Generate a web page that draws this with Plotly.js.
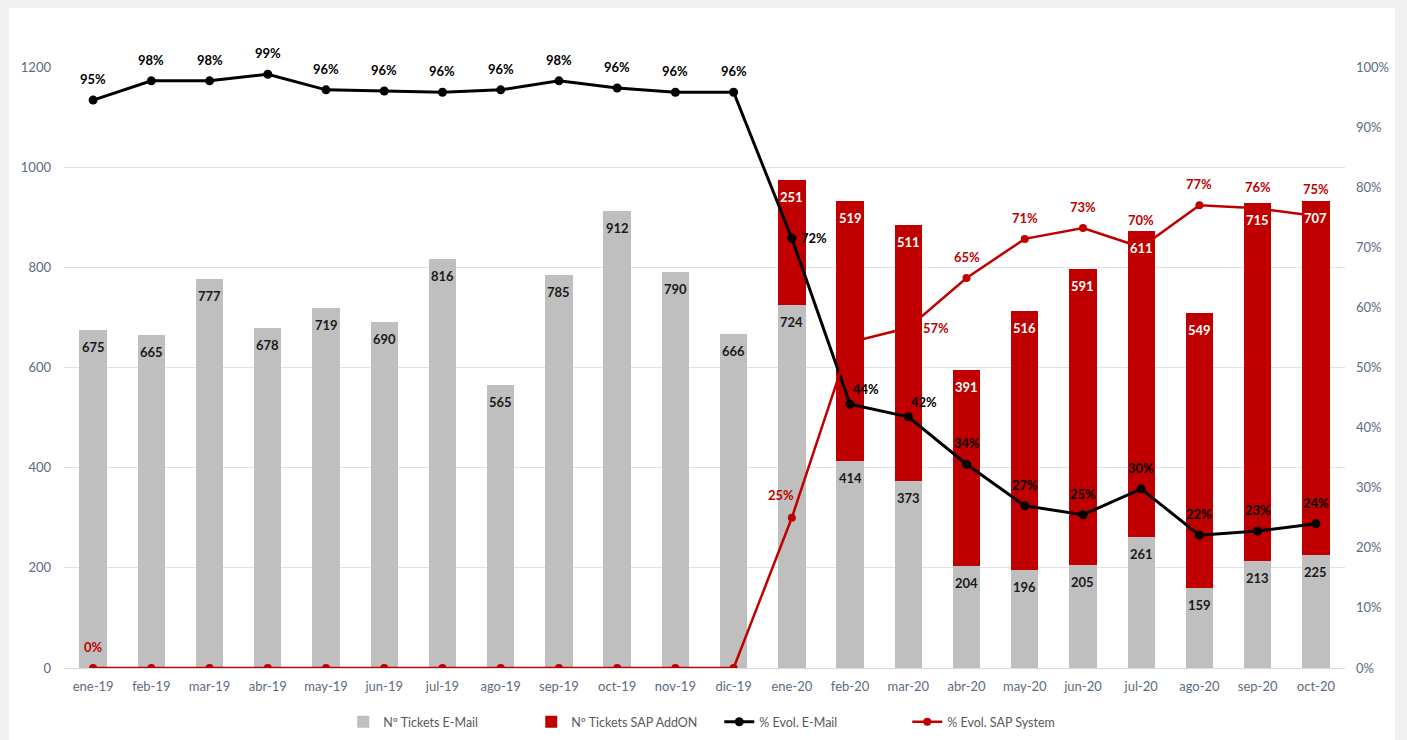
<!DOCTYPE html>
<html>
<head>
<meta charset="utf-8">
<script src="https://cdn.plot.ly/plotly-3.0.1.min.js"></script>
<style>
html,body{margin:0;padding:0;background:#f0f0f0;width:1407px;height:740px;overflow:hidden;}
#chart{position:absolute;left:9px;top:8px;width:1386px;height:732px;background:#fff;}
</style>
</head>
<body>
<div id="chart"></div>
<script>
const months = ["ene-19","feb-19","mar-19","abr-19","may-19","jun-19","jul-19","ago-19","sep-19","oct-19","nov-19","dic-19","ene-20","feb-20","mar-20","abr-20","may-20","jun-20","jul-20","ago-20","sep-20","oct-20"];
const ticketsEmail = [675,665,777,678,719,690,816,565,785,912,790,666,724,414,373,204,196,205,261,159,213,225];
const ticketsSap = [0,0,0,0,0,0,0,0,0,0,0,0,251,519,511,391,516,591,611,549,715,707];
const pctEmail = [0.945,0.977,0.977,0.988,0.962,0.960,0.958,0.962,0.977,0.965,0.958,0.958,0.715,0.439,0.418,0.339,0.270,0.255,0.298,0.221,0.228,0.240];
const pctEmailLabels = ["95%","98%","98%","99%","96%","96%","96%","96%","98%","96%","96%","96%","72%","44%","42%","34%","27%","25%","30%","22%","23%","24%"];
const pctSap = [0,0,0,0,0,0,0,0,0,0,0,0,0.25,0.542,0.566,0.649,0.714,0.732,0.700,0.770,0.765,0.752];
const pctSapLabels = ["0%","","","","","","","","","","","","25%","","57%","65%","71%","73%","70%","77%","76%","75%"];
// label placement codes (like textposition)
const emailLabelPos = ["above","above","above","above","above","above","above","above","above","above","above","above","right","upright","upright","above","above","above","above","above","above","above"];
const sapLabelPos = ["above","above","above","above","above","above","above","above","above","above","above","above","upleft","above","farright","above","above","above","high","above","above","high"];

const tickFont = {family:"Lato, 'Open Sans', sans-serif", size:13, color:"#5b6b82"};
const placement = {
  above:{xshift:0, yshift:21},
  high:{xshift:0, yshift:27},
  right:{xshift:22, yshift:0},
  farright:{xshift:28, yshift:0},
  upright:{xshift:16, yshift:15},
  upleft:{xshift:-11, yshift:23}
};

const traces = [
  {type:"bar", name:"Nº Tickets E-Mail", x:months, y:ticketsEmail, marker:{color:"#bfbfbf"}, hoverinfo:"y"},
  {type:"bar", name:"Nº Tickets SAP AddON", x:months, y:ticketsSap, marker:{color:"#c00000"}, hoverinfo:"y"},
  {type:"scatter", mode:"lines+markers", name:"% Evol. E-Mail", x:months, y:pctEmail, yaxis:"y2",
   line:{color:"#000000", width:3}, marker:{color:"#000000", size:9}},
  {type:"scatter", mode:"lines+markers", name:"% Evol. SAP System", x:months, y:pctSap, yaxis:"y2",
   line:{color:"#c00000", width:2.5}, marker:{color:"#c00000", size:8}}
];

const annotations = [];
const lblFont = (c)=>({family:"Lato, sans-serif", size:13, color:c, weight:"bold"});
months.forEach((m,i)=>{
  annotations.push({x:m, y:ticketsEmail[i], xref:"x", yref:"y", text:String(ticketsEmail[i]), showarrow:false,
    yshift:-17, font:lblFont("#1a1a1a")});
  if (ticketsSap[i]) {
    annotations.push({x:m, y:ticketsEmail[i]+ticketsSap[i], xref:"x", yref:"y", text:String(ticketsSap[i]), showarrow:false,
      yshift:-17, font:lblFont("#ffffff")});
  }
});
months.forEach((m,i)=>{
  if (pctEmailLabels[i]) {
    const p = placement[emailLabelPos[i]];
    annotations.push({x:m, y:pctEmail[i], xref:"x", yref:"y2", text:pctEmailLabels[i], showarrow:false,
      xshift:p.xshift, yshift:p.yshift, font:lblFont("#000000")});
  }
  if (pctSapLabels[i]) {
    const p = placement[sapLabelPos[i]];
    annotations.push({x:m, y:pctSap[i], xref:"x", yref:"y2", text:pctSapLabels[i], showarrow:false,
      xshift:p.xshift, yshift:p.yshift, font:lblFont("#c00000")});
  }
});

const layout = {
  width:1386, height:732,
  paper_bgcolor:"#ffffff", plot_bgcolor:"#ffffff",
  margin:{l:55, r:50, t:59, b:72, autoexpand:false},
  barmode:"stack", bargap:0.53,
  showlegend:true,
  legend:{orientation:"h", x:0.218, xanchor:"left", y:-0.09, yanchor:"middle",
          font:{family:"Lato, sans-serif", size:12.5, color:"#595959"}, traceorder:"normal",
          entrywidth:143, entrywidthmode:"pixels", itemwidth:30},
  xaxis:{type:"category", range:[-0.5,21.5], tickfont:tickFont, showline:true, linecolor:"#d9d9d9", linewidth:1,
         ticks:"", showgrid:false, ticklabelstandoff:6, automargin:false},
  yaxis:{range:[0,1200], tickvals:[0,200,400,600,800,1000,1200], tickfont:tickFont, automargin:false,
         gridcolor:"#dde3ec", gridwidth:1, zeroline:false, ticks:"", ticklabelstandoff:12},
  yaxis2:{range:[0,1], overlaying:"y", side:"right", tickformat:".0%", automargin:false,
          tickvals:[0,0.1,0.2,0.3,0.4,0.5,0.6,0.7,0.8,0.9,1.0], tickfont:tickFont,
          showgrid:false, zeroline:false, ticks:"", ticklabelstandoff:10},
  annotations:annotations,
  font:{family:"Lato, sans-serif"}
};

Plotly.newPlot("chart", traces, layout, {displayModeBar:false, staticPlot:true});
</script>
</body>
</html>
